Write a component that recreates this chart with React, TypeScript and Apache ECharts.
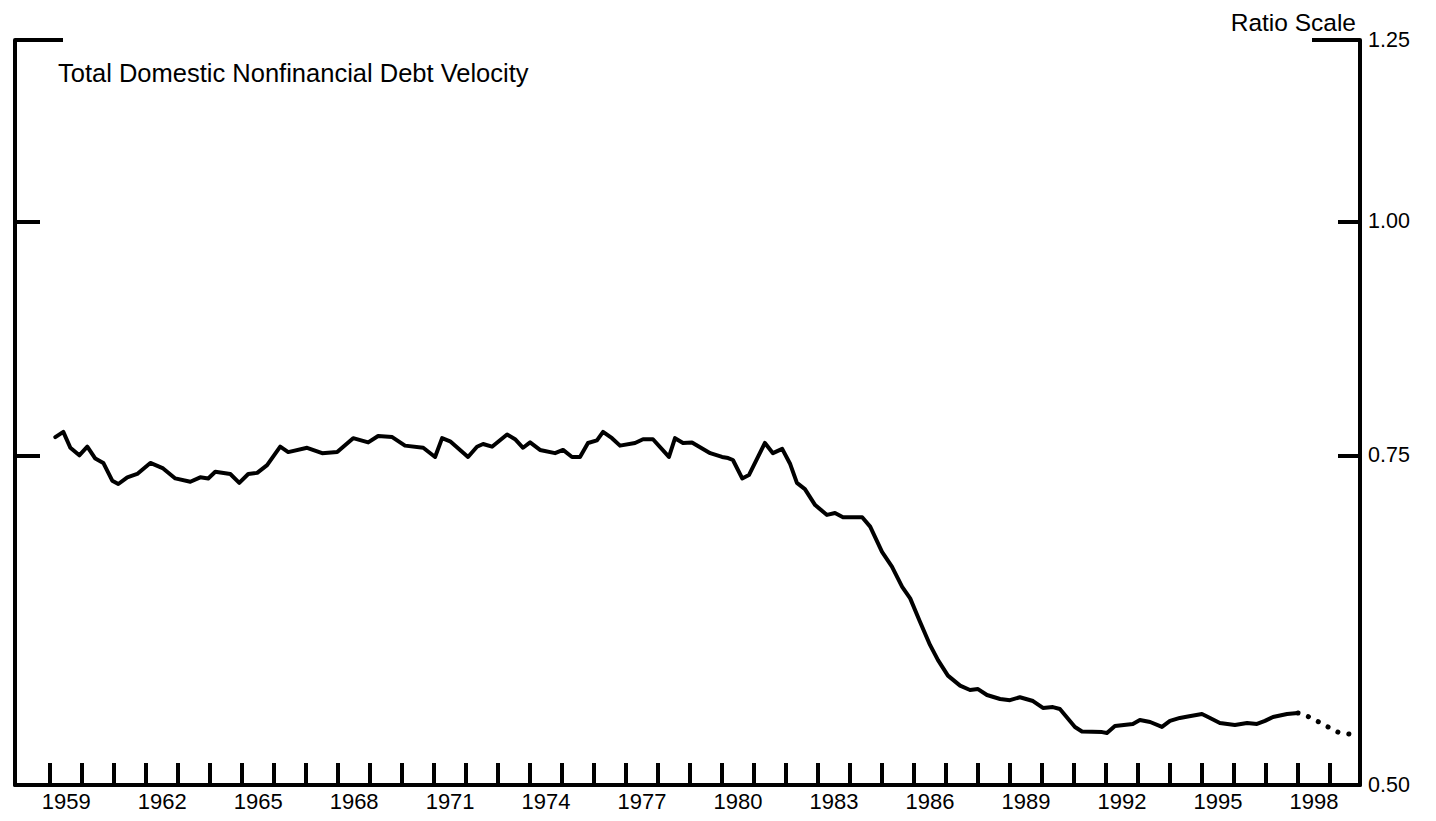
import React, { useEffect, useRef } from "react";
import * as echarts from "echarts";

// Quarterly debt velocity (ratio scale)
const dates = [
  1959.16, 1959.41, 1959.63, 1959.91, 1960.16, 1960.41, 1960.66, 1960.94, 1961.13, 1961.41,
  1961.72, 1962.13, 1962.53, 1962.91, 1963.38, 1963.69, 1963.94, 1964.16, 1964.63, 1964.91,
  1965.19, 1965.47, 1965.78, 1966.19, 1966.44, 1967.03, 1967.5, 1967.97, 1968.47, 1968.94,
  1969.25, 1969.69, 1970.09, 1970.66, 1971.03, 1971.25, 1971.5, 1972.06, 1972.34, 1972.53,
  1972.81, 1973.28, 1973.53, 1973.78, 1974.0, 1974.31, 1974.78, 1975.03, 1975.31, 1975.56,
  1975.81, 1976.09, 1976.28, 1976.56, 1976.81, 1977.28, 1977.53, 1977.84, 1978.34, 1978.53,
  1978.78, 1979.06, 1979.63, 1980.0, 1980.19, 1980.34, 1980.63, 1980.84, 1981.34, 1981.59,
  1981.88, 1982.13, 1982.34, 1982.59, 1982.91, 1983.28, 1983.53, 1983.78, 1984.38, 1984.63,
  1985.0, 1985.31, 1985.63, 1985.88, 1986.19, 1986.5, 1986.75, 1987.06, 1987.44, 1987.75,
  1988.0, 1988.28, 1988.69, 1989.0, 1989.31, 1989.72, 1990.03, 1990.34, 1990.56, 1991.03,
  1991.25, 1991.88, 1992.03, 1992.28, 1992.84, 1993.06, 1993.38, 1993.75, 1994.0, 1994.31,
  1994.56, 1995.0, 1995.19, 1995.56, 1996.03, 1996.41, 1996.72, 1996.97, 1997.22, 1997.66,
  1998.0,
];
const velocity = [
  0.767, 0.772, 0.757, 0.75, 0.758, 0.747, 0.743, 0.727, 0.724, 0.73,
  0.733, 0.743, 0.738, 0.729, 0.726, 0.73, 0.729, 0.735, 0.733, 0.725,
  0.733, 0.734, 0.741, 0.758, 0.753, 0.757, 0.752, 0.753, 0.766, 0.762,
  0.768, 0.767, 0.759, 0.757, 0.7485, 0.766, 0.763, 0.7485, 0.758, 0.7605,
  0.758, 0.7695, 0.765, 0.757, 0.762, 0.755, 0.752, 0.755, 0.7485, 0.7485,
  0.7615, 0.764, 0.772, 0.766, 0.759, 0.7615, 0.765, 0.765, 0.7485, 0.766,
  0.7615, 0.762, 0.752, 0.7485, 0.7475, 0.7457, 0.729, 0.732, 0.7615, 0.752,
  0.756, 0.742, 0.725, 0.7195, 0.7055, 0.697, 0.6986, 0.695, 0.695, 0.687,
  0.666, 0.654, 0.638, 0.629, 0.611, 0.594, 0.583, 0.572, 0.565, 0.562,
  0.5626, 0.5585, 0.5558, 0.555, 0.557, 0.5544, 0.5497, 0.5503, 0.549, 0.537,
  0.534, 0.5336, 0.533, 0.5376, 0.539, 0.5416, 0.5403, 0.537, 0.541, 0.543,
  0.544, 0.5456, 0.5436, 0.5396, 0.5383, 0.5396, 0.539, 0.541, 0.5436, 0.5456,
  0.5463,
];
// Projection (dotted)
const projDates = [1998.0, 1998.22, 1998.59, 1998.94, 1999.25, 1999.69];
const projVelocity = [0.5463, 0.545, 0.541, 0.537, 0.5336, 0.532];

const tickYears = [
  1959, 1960, 1961, 1962, 1963, 1964, 1965, 1966, 1967, 1968, 1969, 1970, 1971, 1972,
  1973, 1974, 1975, 1976, 1977, 1978, 1979, 1980, 1981, 1982, 1983, 1984, 1985, 1986,
  1987, 1988, 1989, 1990, 1991, 1992, 1993, 1994, 1995, 1996, 1997, 1998, 1999,
];
const labelYears = [1959, 1962, 1965, 1968, 1971, 1974, 1977, 1980, 1983, 1986, 1989, 1992, 1995, 1998];
const yTickValues = [0.75, 1.0];
const yTopTick = [1.2499];
const yLabelValues = [0.5001, 0.75, 1.0, 1.2499];

const FONT = "'Liberation Sans', Arial, Helvetica, sans-serif";

export default function App() {
  const ref = useRef<HTMLDivElement>(null);
  useEffect(() => {
    if (!ref.current) return;
    const chart = echarts.init(ref.current, undefined, { renderer: "svg" });
    const yBase: any = {
      type: "log",
      logBase: 10,
      min: 0.5,
      max: 1.25,
      splitLine: { show: false },
      axisLabel: { show: false },
      axisTick: { show: false },
      axisLine: { show: false, onZero: false },
    };
    const tickStyle = { color: "#000", width: 4 };
    chart.setOption({
      animation: false,
      backgroundColor: "#fff",
      grid: { left: 15, right: 76, top: 40, bottom: 36 },
      xAxis: {
        type: "value",
        min: 1957.9,
        max: 1999.94,
        splitLine: { show: false },
        axisLine: { show: true, onZero: false, lineStyle: { color: "#000", width: 4 } },
        axisTick: {
          show: true,
          inside: true,
          length: 22,
          lineStyle: tickStyle,
          customValues: tickYears,
        },
        axisLabel: {
          show: true,
          customValues: labelYears.map((y) => y + 0.5),
          formatter: (v: number) => String(Math.floor(v)),
          color: "#000",
          fontSize: 22,
          fontFamily: FONT,
          margin: 5,
        },
      },
      yAxis: [
        {
          ...yBase,
          position: "right",
          axisLine: { show: true, onZero: false, lineStyle: { color: "#000", width: 4 } },
          axisTick: { show: true, inside: true, length: 22, lineStyle: tickStyle, customValues: yTickValues },
          axisLabel: {
            show: true,
            customValues: yLabelValues,
            formatter: (v: number) => v.toFixed(2),
            color: "#000",
            fontSize: 21.5,
            fontFamily: FONT,
            margin: 8,
          },
        },
        {
          ...yBase,
          position: "right",
          axisTick: { show: true, inside: true, length: 48, lineStyle: tickStyle, customValues: yTopTick },
        },
        {
          ...yBase,
          position: "left",
          axisLine: { show: true, onZero: false, lineStyle: { color: "#000", width: 4 } },
          axisTick: { show: true, inside: true, length: 25, lineStyle: tickStyle, customValues: yTickValues },
        },
        {
          ...yBase,
          position: "left",
          axisTick: { show: true, inside: true, length: 48, lineStyle: tickStyle, customValues: yTopTick },
        },
      ],
      graphic: [
        {
          type: "text",
          left: 58,
          top: 60,
          style: {
            text: "Total Domestic Nonfinancial Debt Velocity",
            fill: "#000",
            font: `25.5px ${FONT}`,
          },
        },
        {
          type: "text",
          right: 1436 - 1356,
          top: 10,
          style: {
            text: "Ratio Scale",
            fill: "#000",
            font: `24.5px ${FONT}`,
          },
        },
      ],
      series: [
        {
          type: "line",
          yAxisIndex: 0,
          data: dates.map((d, i) => [d, velocity[i]]),
          showSymbol: false,
          symbol: "none",
          lineStyle: { color: "#000", width: 4, join: "round", cap: "round" },
        },
        {
          type: "line",
          yAxisIndex: 0,
          data: projDates.map((d, i) => [d, projVelocity[i]]),
          showSymbol: false,
          symbol: "none",
          lineStyle: { color: "#000", width: 5, type: [0.1, 11], cap: "round" },
        },
      ],
    });
    return () => chart.dispose();
  }, []);
  return (
    <div
      ref={ref}
      style={{ position: "fixed", left: 0, top: 0, width: 1436, height: 821, background: "#fff" }}
    />
  );
}
